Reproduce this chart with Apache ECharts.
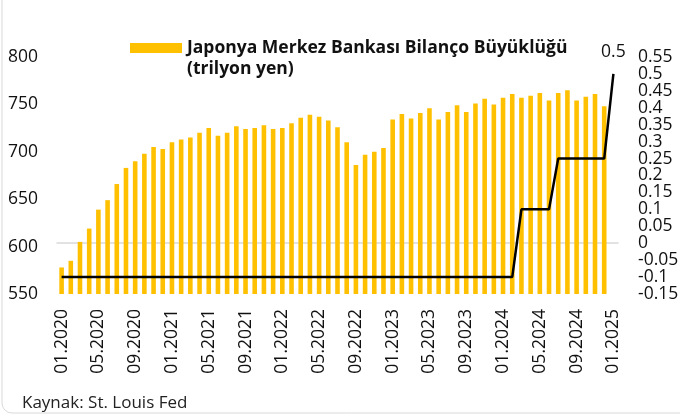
<!DOCTYPE html>
<html>
<head>
<meta charset="utf-8">
<script src="https://cdn.jsdelivr.net/npm/echarts@6/dist/echarts.min.js"></script>
<style>
  html, body { margin: 0; padding: 0; background: #fff; }
  #chart { width: 680px; height: 416px; }
</style>
</head>
<body>
<div id="chart"></div>
<script>
// aylar
var months = [
  '01.2020','02.2020','03.2020','04.2020','05.2020','06.2020','07.2020','08.2020','09.2020','10.2020','11.2020','12.2020',
  '01.2021','02.2021','03.2021','04.2021','05.2021','06.2021','07.2021','08.2021','09.2021','10.2021','11.2021','12.2021',
  '01.2022','02.2022','03.2022','04.2022','05.2022','06.2022','07.2022','08.2022','09.2022','10.2022','11.2022','12.2022',
  '01.2023','02.2023','03.2023','04.2023','05.2023','06.2023','07.2023','08.2023','09.2023','10.2023','11.2023','12.2023',
  '01.2024','02.2024','03.2024','04.2024','05.2024','06.2024','07.2024','08.2024','09.2024','10.2024','11.2024','12.2024',
  '01.2025'
];
// bilanco (trilyon yen)
var balance = [
  578, 585, 605, 619, 639, 649, 666, 683, 690, 698, 705, 703,
  710, 713, 715, 720, 725, 717, 720, 727, 724, 725, 728, 724,
  725, 730, 736, 739, 737, 733, 726, 710, 686, 697, 700, 704,
  734, 740, 735, 741, 746, 734, 742, 749, 742, 751, 756, 750,
  757, 761, 757, 759, 762, 754, 762, 765, 754, 758, 761, 748,
  null
];
// politika faizi (%)
var rate = [
  -0.1, -0.1, -0.1, -0.1, -0.1, -0.1, -0.1, -0.1, -0.1, -0.1, -0.1, -0.1,
  -0.1, -0.1, -0.1, -0.1, -0.1, -0.1, -0.1, -0.1, -0.1, -0.1, -0.1, -0.1,
  -0.1, -0.1, -0.1, -0.1, -0.1, -0.1, -0.1, -0.1, -0.1, -0.1, -0.1, -0.1,
  -0.1, -0.1, -0.1, -0.1, -0.1, -0.1, -0.1, -0.1, -0.1, -0.1, -0.1, -0.1,
  -0.1, -0.1, 0.1, 0.1, 0.1, 0.1, 0.25, 0.25, 0.25, 0.25, 0.25, 0.25,
  0.5
];
// sag eksen etiketleri (iki gruba bolundu, ust uste binmesin diye)
var rateTicksOdd = [-0.15, -0.05, 0.05, 0.15, 0.25, 0.35, 0.45, 0.55];
var rateTicksEven = [-0.1, 0, 0.1, 0.2, 0.3, 0.4, 0.5];

var font = 'Open Sans';
var chart = echarts.init(document.getElementById('chart'));

function rateAxis(ticks) {
  return {
    type: 'value',
    position: 'right',
    min: -0.15, max: 0.55,
    splitLine: { show: false },
    axisLine: { show: false },
    axisTick: { show: false },
    axisLabel: {
      customValues: ticks,
      margin: 20, fontSize: 17.5, color: '#111',
      formatter: function(v) { return String(Math.round(v * 100) / 100); }
    }
  };
}

chart.setOption({
  animation: false,
  textStyle: { fontFamily: font },
  graphic: [{
    type: 'rect',
    shape: { x: 2, y: -20, width: 700, height: 433, r: 10 },
    style: { fill: 'none', stroke: '#d9d9d9', lineWidth: 1 },
    silent: true
  }, {
    type: 'text',
    left: 187, top: 60,
    style: { text: '(trilyon yen)', fontSize: 17.5, fontWeight: 'bold', fontFamily: font, fill: '#111' }
  }, {
    type: 'text',
    left: 22, top: 395,
    style: { text: 'Kaynak: St. Louis Fed', fontSize: 17, fontFamily: font, fill: '#222' }
  }],
  legend: {
    data: [{ name: 'bilanco', icon: 'rect' }],
    left: 125, top: 34,
    itemWidth: 52, itemHeight: 10,
    formatter: function() { return 'Japonya Merkez Bankası Bilanço Büyüklüğü'; },
    textStyle: { fontSize: 17.5, fontWeight: 'bold', color: '#111', fontFamily: font }
  },
  grid: { left: 57, right: 62, top: 57, bottom: 122, outerBoundsMode: 'none' },
  xAxis: {
    type: 'category',
    data: months,
    axisLine: { lineStyle: { color: '#d9d9d9', width: 1.5 } },
    axisTick: { show: false },
    axisLabel: { interval: 3, rotate: 90, margin: 15, fontSize: 17.5, color: '#111' }
  },
  yAxis: [{
    type: 'value',
    min: 550, max: 800, interval: 50,
    splitLine: { show: false },
    axisLine: { show: false },
    axisLabel: { margin: 19, fontSize: 17.5, color: '#111' }
  }, rateAxis(rateTicksOdd), rateAxis(rateTicksEven)],
  series: [{
    name: 'bilanco',
    type: 'bar',
    data: balance,
    barWidth: '50%',
    itemStyle: { color: '#FFC000' }
  }, {
    name: 'faiz',
    type: 'line',
    yAxisIndex: 1,
    data: rate,
    symbol: 'none',
    lineStyle: { color: '#000', width: 2.5 },
    markPoint: {
      symbol: 'circle',
      symbolSize: 1,
      itemStyle: { color: 'rgba(0,0,0,0)' },
      label: { show: true, position: 'top', distance: 12, fontSize: 17.5, color: '#111' },
      data: [{ type: 'max' }]
    }
  }]
});
</script>
</body>
</html>
